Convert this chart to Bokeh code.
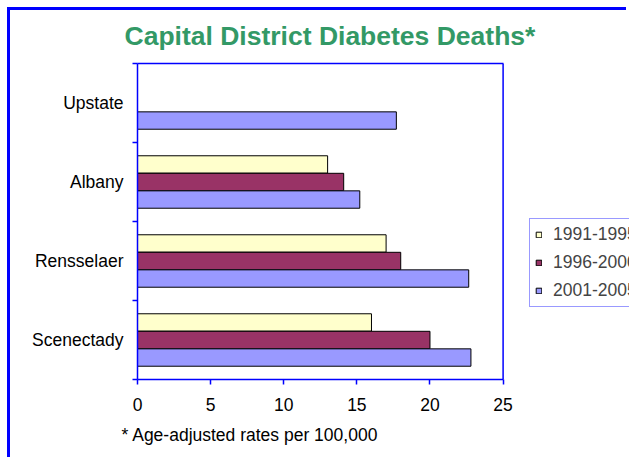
import math
from bokeh.plotting import figure
from bokeh.models import (FactorRange, Range1d, LinearAxis, CategoricalAxis,
                          FixedTicker, Title, ColumnDataSource, Legend, LegendItem, Span)
from bokeh.transform import dodge
from bokeh.embed import file_html
from bokeh.resources import INLINE

nan = float("nan")
categories = ["Upstate", "Albany", "Rensselaer", "Scenectady"]
series = ["1991-1995", "1996-2000", "2001-2005"]
v1991 = [nan, 13.0, 17.0, 16.0]
v1996 = [nan, 14.1, 18.0, 20.0]
v2001 = [17.7, 15.2, 22.65, 22.8]
x_ticks = [0, 5, 10, 15, 20, 25]
colors = ["#FFFFCC", "#993366", "#9999FF"]

FONT = "Liberation Sans"
BLUE = "#0000FF"

# plot box spans x_ticks[0]..x_ticks[-1]; the frame extends further right so the
# legend (which sits to the right of the box) is drawn inside the frame
BOX_PX = 365.6
FRAME_PX = 492
x_end = x_ticks[-1] * FRAME_PX / BOX_PX

src = ColumnDataSource(dict(cat=categories, v1991=v1991, v1996=v1996, v2001=v2001))

p = figure(width=619, height=450,
           y_range=FactorRange(factors=list(reversed(categories))),
           x_range=Range1d(x_ticks[0], x_end),
           y_axis_location=None,
           output_backend="svg", toolbar_location=None,
           min_border_left=127, min_border_right=0,
           min_border_top=53, min_border_bottom=81,
           title="Capital District Diabetes Deaths*")
p.styles = {"border-left": "3px solid #0000FF", "border-top": "3px solid #0000FF",
            "margin-left": "7px", "margin-top": "7px"}
p.background_fill_color = "white"
p.border_fill_color = "white"
p.outline_line_color = None
p.xgrid.grid_line_color = None
p.ygrid.grid_line_color = None

p.title.text_font = FONT
p.title.text_font_size = "26.5px"
p.title.text_font_style = "bold"
p.title.text_color = "#339966"
p.title.align = "left"
p.title.vertical_align = "top"
p.title.offset = -13
p.title.standoff = 21

offsets = [0.222, 0.0, -0.222]
cols = ["v1991", "v1996", "v2001"]
items = []
for col, off, c, lab in zip(cols, offsets, colors, series):
    r = p.hbar(y=dodge("cat", off, range=p.y_range), right=col, left=0, height=0.22,
               source=src, fill_color=c, line_color="black", line_width=1)
    items.append(LegendItem(label=lab, renderers=[r]))

# x axis
xa = p.xaxis[0]
xa.ticker = FixedTicker(ticks=x_ticks)
xa.bounds = (x_ticks[0], x_ticks[-1])
xa.axis_line_color = BLUE
xa.axis_line_width = 1.5
xa.major_tick_line_color = BLUE
xa.major_tick_line_width = 1.5
xa.major_tick_out = 5
xa.major_tick_in = 0
xa.minor_tick_line_color = None
xa.major_label_text_font = FONT
xa.major_label_text_font_size = "17.5px"
xa.major_label_text_color = "black"
xa.major_label_standoff = 13

# top edge of the plot box
ta = LinearAxis(ticker=FixedTicker(ticks=[]), bounds=(x_ticks[0], x_ticks[-1]))
ta.axis_line_color = BLUE
ta.axis_line_width = 1.5
ta.major_tick_line_color = None
ta.minor_tick_line_color = None
ta.major_tick_out = 0
ta.major_label_text_font_size = "0px"
ta.major_label_standoff = 0
p.add_layout(ta, "above")

# right edge of the plot box
p.add_layout(Span(location=x_ticks[-1], dimension="height", line_color=BLUE, line_width=1.5))

# boundary ticks axis on the left (category boundaries in synthetic coords)
ba = LinearAxis(ticker=FixedTicker(ticks=list(range(len(categories) + 1))))
ba.axis_line_color = BLUE
ba.axis_line_width = 1.5
ba.major_tick_line_color = BLUE
ba.major_tick_line_width = 1.5
ba.major_tick_out = 5
ba.major_tick_in = 0
ba.minor_tick_line_color = None
ba.major_label_text_font_size = "0px"
ba.major_label_overrides = {i: "" for i in range(len(categories) + 1)}
ba.major_label_standoff = 0
p.add_layout(ba, "left")

ca = CategoricalAxis()
ca.axis_line_color = None
ca.major_tick_line_color = None
ca.major_tick_out = 0
ca.major_tick_in = 0
ca.major_label_text_font = FONT
ca.major_label_text_font_size = "17.5px"
ca.major_label_text_color = "black"
ca.major_label_standoff = 9
p.add_layout(ca, "left")

p.add_layout(Title(text="* Age-adjusted rates per 100,000", align="left", offset=-16,
                   standoff=18,
                   text_font=FONT, text_font_size="17.5px", text_font_style="normal",
                   text_color="black"), "below")

lg = Legend(items=items, location=(392, 72))
lg.border_line_color = "#3333FF"
lg.border_line_width = 1
lg.background_fill_color = "white"
lg.background_fill_alpha = 1
lg.label_text_font = FONT
lg.label_text_font_size = "17.5px"
lg.label_height = 20
lg.glyph_width = 7
lg.glyph_height = 7
lg.spacing = 7
lg.padding = 5
lg.margin = 0
lg.label_standoff = 11
p.add_layout(lg, "center")

open("out.html", "w").write(file_html(p, INLINE))
